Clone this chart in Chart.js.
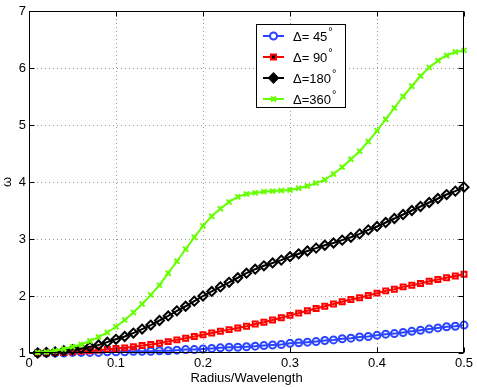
<!DOCTYPE html>
<html>
<head>
<meta charset="utf-8">
<script src="https://cdn.jsdelivr.net/npm/chart.js@4.4.0/dist/chart.umd.min.js"></script>
<style>
    body { margin: 0; background: #fff; }
    #wrap { width: 477px; height: 387px; position: relative; }
</style>
</head>
<body>
<div id="wrap"><canvas id="omegaChart"></canvas></div>
<script>
const radius = [0.01, 0.02, 0.03, 0.04, 0.05, 0.06, 0.07, 0.08, 0.09, 0.10,
    0.11, 0.12, 0.13, 0.14, 0.15, 0.16, 0.17, 0.18, 0.19, 0.20,
    0.21, 0.22, 0.23, 0.24, 0.25, 0.26, 0.27, 0.28, 0.29, 0.30,
    0.31, 0.32, 0.33, 0.34, 0.35, 0.36, 0.37, 0.38, 0.39, 0.40,
    0.41, 0.42, 0.43, 0.44, 0.45, 0.46, 0.47, 0.48, 0.49, 0.50];

const omega45 = [1.00, 1.00, 1.00, 1.00, 1.01, 1.01, 1.01, 1.01, 1.02, 1.02,
    1.02, 1.03, 1.03, 1.03, 1.04, 1.04, 1.05, 1.06, 1.06, 1.07,
    1.08, 1.09, 1.10, 1.10, 1.11, 1.12, 1.13, 1.14, 1.15, 1.17,
    1.18, 1.19, 1.20, 1.22, 1.23, 1.25, 1.26, 1.28, 1.29, 1.31,
    1.33, 1.34, 1.36, 1.38, 1.40, 1.42, 1.44, 1.46, 1.47, 1.49];

const omega90 = [1.00, 1.00, 1.01, 1.01, 1.02, 1.03, 1.04, 1.05, 1.06, 1.08,
    1.09, 1.11, 1.13, 1.15, 1.17, 1.20, 1.23, 1.26, 1.29, 1.32,
    1.35, 1.38, 1.41, 1.44, 1.47, 1.51, 1.54, 1.58, 1.62, 1.66,
    1.70, 1.74, 1.78, 1.82, 1.86, 1.90, 1.94, 1.97, 2.01, 2.05,
    2.09, 2.12, 2.16, 2.19, 2.22, 2.26, 2.29, 2.32, 2.35, 2.38];

const omega180 = [1.00, 1.01, 1.02, 1.04, 1.06, 1.08, 1.11, 1.14, 1.19, 1.24,
    1.29, 1.35, 1.42, 1.49, 1.57, 1.65, 1.74, 1.82, 1.91, 2.00,
    2.08, 2.16, 2.24, 2.32, 2.40, 2.47, 2.53, 2.58, 2.63, 2.69,
    2.74, 2.79, 2.84, 2.89, 2.93, 2.98, 3.03, 3.09, 3.16, 3.22,
    3.29, 3.36, 3.43, 3.50, 3.57, 3.64, 3.71, 3.78, 3.84, 3.91];

const omega360 = [1.01, 1.02, 1.04, 1.07, 1.11, 1.15, 1.21, 1.28, 1.36, 1.46,
    1.58, 1.71, 1.86, 2.02, 2.19, 2.40, 2.61, 2.82, 3.03, 3.23,
    3.40, 3.53, 3.65, 3.74, 3.79, 3.81, 3.83, 3.84, 3.85, 3.86,
    3.89, 3.93, 3.98, 4.04, 4.14, 4.26, 4.40, 4.54, 4.71, 4.90,
    5.10, 5.30, 5.50, 5.68, 5.86, 6.01, 6.13, 6.22, 6.28, 6.31];

const deltaLabels = ['45', '90', '180', '360'];
const xTicks = [0, 0.1, 0.2, 0.3, 0.4, 0.5];
const yTicks = [1, 2, 3, 4, 5, 6, 7];

const FONT = "'Liberation Sans', Arial, sans-serif";

function series(values) {
    return values.map((v, i) => ({ x: radius[i], y: v }));
}

function makeSet(label, values, color, style, r, order) {
    return {
        label: label,
        data: series(values),
        borderColor: color,
        backgroundColor: color,
        borderWidth: 2,
        pointStyle: style,
        pointRadius: r,
        pointBorderColor: color,
        pointBackgroundColor: 'rgba(0,0,0,0)',
        pointBorderWidth: 2,
        tension: 0,
        clip: false,
        order: order
    };
}

const datasets = [
    makeSet(deltaLabels[0], omega45, '#2a44ff', 'circle', 3.5, 4),
    makeSet(deltaLabels[1], omega90, '#ff0000', 'rect', 3.5, 3),
    makeSet(deltaLabels[2], omega180, '#000000', 'rectRot', 4.5, 2),
    makeSet(deltaLabels[3], omega360, '#66ff00', 'crossRot', 3.5, 1)
];

// dotted grid, drawn under the lines
const gridPlugin = {
    id: 'dottedGrid',
    beforeDatasetsDraw(chart) {
        const { ctx, chartArea: a, scales } = chart;
        ctx.save();
        ctx.strokeStyle = '#9a9a9a';
        ctx.lineWidth = 1;
        ctx.setLineDash([1, 3]);
        ctx.beginPath();
        xTicks.slice(1, -1).forEach(t => {
            const x = Math.round(scales.x.getPixelForValue(t)) + 0.5;
            ctx.moveTo(x, a.top); ctx.lineTo(x, a.bottom);
        });
        yTicks.slice(1, -1).forEach(t => {
            const y = Math.round(scales.y.getPixelForValue(t)) + 0.5;
            ctx.moveTo(a.left, y); ctx.lineTo(a.right, y);
        });
        ctx.stroke();
        ctx.restore();
    }
};

// axes box and inward tick marks, matlab style
const boxPlugin = {
    id: 'box',
    afterDraw(chart) {
        const { ctx, chartArea: a, scales } = chart;
        ctx.save();
        ctx.strokeStyle = '#000';
        ctx.lineWidth = 1;
        const L = Math.round(a.left) + 0.5, R = Math.round(a.right) - 0.5;
        const T = Math.round(a.top) + 0.5, B = Math.round(a.bottom) - 0.5;
        ctx.strokeRect(L, T, R - L, B - T);
        ctx.beginPath();
        xTicks.forEach(t => {
            const x = Math.round(scales.x.getPixelForValue(t)) + 0.5;
            ctx.moveTo(x, B); ctx.lineTo(x, B - 5);
            ctx.moveTo(x, T); ctx.lineTo(x, T + 5);
        });
        yTicks.forEach(t => {
            const y = Math.round(scales.y.getPixelForValue(t)) + 0.5;
            ctx.moveTo(L, y); ctx.lineTo(L + 5, y);
            ctx.moveTo(R, y); ctx.lineTo(R - 5, y);
        });
        ctx.stroke();
        ctx.restore();
    }
};

// legend box inside the plot
const legendPlugin = {
    id: 'insideLegend',
    afterDraw(chart) {
        const ctx = chart.ctx;
        const bx = 256.5, by = 24.5, bw = 89, bh = 83;
        ctx.save();
        ctx.fillStyle = '#fff';
        ctx.fillRect(bx, by, bw, bh);
        ctx.strokeStyle = '#000';
        ctx.lineWidth = 1;
        ctx.strokeRect(bx, by, bw, bh);
        chart.data.datasets.forEach((ds, i) => {
            const y = 36 + i * 21;
            ctx.strokeStyle = ds.borderColor;
            ctx.lineWidth = 2;
            ctx.beginPath();
            ctx.moveTo(263, y);
            ctx.lineTo(284, y);
            ctx.stroke();
            Chart.helpers.drawPoint(ctx, {
                pointStyle: ds.pointStyle,
                radius: ds.pointRadius,
                borderWidth: 2,
                rotation: 0
            }, 273.5, y);
            ctx.fillStyle = '#000';
            ctx.font = '13px ' + FONT;
            ctx.textBaseline = 'middle';
            ctx.textAlign = 'left';
            const txt = '\u0394=' + (ds.label.length < 3 ? ' ' : '') + ds.label;
            ctx.fillText(txt, 293, y + 1);
            const w = ctx.measureText(txt).width;
            ctx.font = '11px ' + FONT;
            ctx.fillText('\u00b0', 293 + w + 1, y - 4);
        });
        ctx.restore();
    }
};

new Chart(document.getElementById('omegaChart'), {
    type: 'line',
    data: { datasets: datasets },
    options: {
        responsive: true,
        maintainAspectRatio: false,
        animation: false,
        layout: { padding: { left: 0, top: 11, right: 13, bottom: 0 } },
        plugins: {
            legend: { display: false },
            tooltip: { enabled: false }
        },
        scales: {
            x: {
                type: 'linear',
                min: 0,
                max: 0.5,
                afterBuildTicks: s => { s.ticks = xTicks.map(v => ({ value: v })); },
                afterFit: s => { s.height = 34; },
                ticks: {
                    color: '#000',
                    font: { family: FONT, size: 13 },
                    padding: 3,
                    maxRotation: 0,
                    callback: v => String(v)
                },
                grid: { display: false, drawTicks: false },
                border: { display: false },
                title: {
                    display: true,
                    text: 'Radius/Wavelength',
                    color: '#000',
                    font: { family: FONT, size: 13 },
                    padding: { top: 0, bottom: 1 }
                }
            },
            y: {
                min: 1,
                max: 7,
                afterBuildTicks: s => { s.ticks = yTicks.map(v => ({ value: v })); },
                afterFit: s => { s.width = 29; },
                ticks: {
                    color: '#000',
                    font: { family: FONT, size: 13 },
                    padding: 3,
                    callback: v => String(v)
                },
                grid: { display: false, drawTicks: false },
                border: { display: false },
                title: {
                    display: true,
                    text: '\u03c9',
                    color: '#000',
                    font: { family: FONT, size: 13 },
                    padding: { top: 0, bottom: 0 }
                }
            }
        }
    },
    plugins: [gridPlugin, boxPlugin, legendPlugin]
});
</script>
</body>
</html>
